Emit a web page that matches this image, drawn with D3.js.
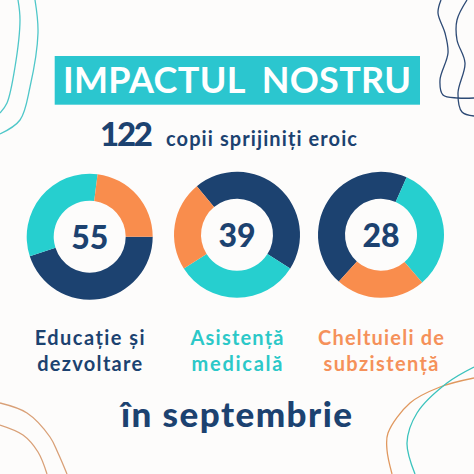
<!DOCTYPE html>
<html><head><meta charset="utf-8">
<script src="https://cdn.jsdelivr.net/npm/d3@7/dist/d3.min.js"></script>
<style>html,body{margin:0;padding:0;background:#fdfcfb}svg{display:block}text{font-family:Lato,sans-serif;font-weight:700}</style>
</head><body><svg id="c" width="474" height="474"></svg>
<script>
const NAVY="#1c4270",TEAL="#26cfcf",ORANGE="#f98d4d",BANNER="#2bc6cf";
const totals=[55,39,28];
const shareNames=["navy","teal","orange"];
const shares=[[45,32,23],[45,32,23],[45,32,23]];
const startDegrees=[90,320.4,222];
const labelLines=[["Educație și","dezvoltare"],["Asistență","medicală"],["Cheltuieli de","subzistență"]];
const labelWidths=[[110,105],[93,91],[126,115]];
const labelColors=[NAVY,"#2cc8c8","#f5915a"];
const centersX=[89.7,237,381];
const centersY=[236.7,234.8,234.8];
const title="IMPACTUL NOSTRU", bigNumber="122", subtitle="copii sprijiniți eroic", footer="în septembrie";
const decor=[
 {c:"#4fc7c9",p:[[18,0],[20,20],[15,67],[7,103],[0,113]]},
 {c:"#4fc7c9",p:[[35,0],[38,33],[30,87],[20,120],[0,134]]},
 {c:"#2d4a75",p:[[441,0],[438,13],[445,33],[448,53],[440,80],[443,95],[458,98],[474,98]]},
 {c:"#2d4a75",p:[[467,0],[457,20],[457,40],[465,63],[458,93],[462,112],[474,116]]},
 {c:"#d9a077",p:[[0,403],[27,413],[50,437],[58,453],[67,474]]},
 {c:"#d9a077",p:[[0,425],[23,435],[38,452],[47,474]]},
 {c:"#e0985f",p:[[474,378],[440,387],[410,403],[388,433],[387,450],[392,474]]},
 {c:"#3cc3bd",p:[[474,367],[447,383],[417,413],[407,443],[415,474]]}
];
const svg=d3.select("#c");
svg.append("rect").attr("width",474).attr("height",474).attr("fill","#fdfcfb");
const line=d3.line().curve(d3.curveCatmullRom.alpha(0.5));
svg.selectAll("path.d").data(decor).join("path").attr("class","d")
  .attr("d",d=>line(d.p)).attr("fill","none").attr("stroke",d=>d.c).attr("stroke-width",1.3);
svg.append("rect").attr("x",54.7).attr("y",56).attr("width",365.3).attr("height",48.7).attr("fill",BANNER);
function txt(s,x,y,size,fill,anchor,w,weight){
  const t=svg.append("text").attr("x",x).attr("y",y).attr("font-size",size).attr("fill",fill).attr("text-anchor",anchor||"middle").text(s);
  if(w)t.attr("textLength",w).attr("lengthAdjust","spacing");
  if(weight)t.style("font-weight",weight);
  return t;
}
txt(title,237,93,36,"#fff","middle",348).style("word-spacing","8px");
txt(bigNumber,100,146,33,NAVY,"start",53,900);
txt(subtitle,166,146,20,NAVY,"start",191);
const color=d3.scaleOrdinal().domain(shareNames).range([NAVY,TEAL,ORANGE]);
const arc=d3.arc().innerRadius(36).outerRadius(63);
totals.forEach((tot,i)=>{
  const a0=startDegrees[i]*Math.PI/180;
  const pie=d3.pie().sort(null).startAngle(a0).endAngle(a0+2*Math.PI);
  const g=svg.append("g").attr("transform",`translate(${centersX[i]},${centersY[i]})`);
  const rows=shares[i].map((v,k)=>({name:shareNames[k],v}));
  g.selectAll("path").data(pie.value(d=>d.v)(rows)).join("path").attr("d",arc).attr("fill",d=>color(d.data.name));
  txt(String(tot),centersX[i],centersY[i]+12,32,NAVY,"middle",null,900);
  labelLines[i].forEach((l,j)=>txt(l,centersX[i],345+j*26,20,labelColors[i],"middle",labelWidths[i][j]));
});
txt(footer,236.5,427,35,NAVY,"middle",231,900);
</script></body></html>
